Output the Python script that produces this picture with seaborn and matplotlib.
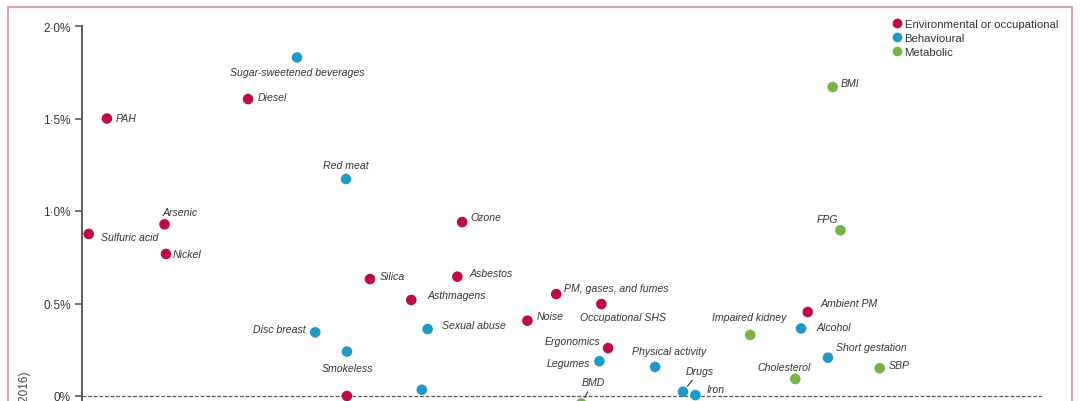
import numpy as np
import pandas as pd
import matplotlib
matplotlib.use('Agg')
import matplotlib.pyplot as plt
from matplotlib.patches import Rectangle
from matplotlib.lines import Line2D
import seaborn as sns

#%% data (x is a plain position, y is % change)
groups = ['Environmental or occupational', 'Behavioural', 'Metabolic']

env_risks = ['PAH', 'Diesel', 'Sulfuric acid', 'Arsenic', 'Nickel', 'Ozone', 'Silica',
             'Asbestos', 'Asthmagens', 'PM, gases, and fumes', 'Occupational SHS', 'Noise',
             'Ergonomics', 'Ambient PM', '']
env_x = [2.6, 17.3, 0.7, 8.6, 8.75, 39.6, 30.0, 39.1, 34.3, 49.4, 54.1, 46.4, 54.8, 75.6, 27.6]
env_y = [1.50, 1.605, 0.876, 0.928, 0.768, 0.94, 0.632, 0.645, 0.519, 0.551, 0.497, 0.407,
         0.259, 0.454, 0.0]

beh_risks = ['Sugar-sweetened beverages', 'Red meat', 'Disc breast', 'Smokeless', 'Sexual abuse',
             'Legumes', 'Physical activity', '', 'Drugs', 'Iron', 'Alcohol', 'Short gestation']
beh_x = [22.4, 27.5, 24.3, 27.6, 36.0, 53.9, 59.7, 35.4, 62.6, 63.9, 74.9, 77.7]
beh_y = [1.83, 1.173, 0.344, 0.24, 0.362, 0.188, 0.157, 0.034, 0.023, 0.005, 0.365, 0.207]

met_risks = ['BMI', 'FPG', 'Impaired kidney', 'Cholesterol', 'SBP', 'BMD']
met_x = [78.2, 79.0, 69.6, 74.3, 83.1, 52.0]
met_y = [1.67, 0.896, 0.33, 0.092, 0.15, -0.04]

ytick_vals = [0, 0.5, 1.0, 1.5, 2.0]
ytick_labels = ['0%', '0·5%', '1·0%', '1·5%', '2·0%']

#%% data frame
df = pd.DataFrame({
    'risk': env_risks + beh_risks + met_risks,
    'x': env_x + beh_x + met_x,
    'change': env_y + beh_y + met_y,
    'group': [groups[0]] * len(env_risks) + [groups[1]] * len(beh_risks) + [groups[2]] * len(met_risks),
})

pal = {groups[0]: '#bf0a42', groups[1]: '#1b9cc8', groups[2]: '#77b543'}

# label placement: (dx px, dy px, ha)
lab_pos = {
    'PAH': (9, 0, 'left'), 'Diesel': (10, 2, 'left'), 'Sulfuric acid': (12, -3, 'left'),
    'Arsenic': (-2, 12, 'left'), 'Nickel': (7, 0, 'left'), 'Ozone': (8, 5, 'left'),
    'Silica': (10, 3, 'left'), 'Asbestos': (12, 4, 'left'), 'Asthmagens': (16, 5, 'left'),
    'PM, gases, and fumes': (8, 6, 'left'), 'Occupational SHS': (22, -13, 'center'),
    'Noise': (9, 5, 'left'), 'Ergonomics': (-8, 7, 'right'), 'Ambient PM': (13, 9, 'left'),
    'Sugar-sweetened beverages': (0, -15, 'center'), 'Red meat': (0, 14, 'center'),
    'Disc breast': (-10, 3, 'right'), 'Smokeless': (0, -16, 'center'),
    'Sexual abuse': (14, 4, 'left'), 'Legumes': (-9, -2, 'right'),
    'Physical activity': (14, 16, 'center'), 'Drugs': (3, 21, 'left'), 'Iron': (11, 6, 'left'),
    'Alcohol': (15, 1, 'left'), 'Short gestation': (8, 11, 'left'), 'BMI': (8, 4, 'left'),
    'FPG': (-13, 11, 'center'), 'Impaired kidney': (-1, 18, 'center'),
    'Cholesterol': (-11, 12, 'center'), 'SBP': (9, 3, 'left'), 'BMD': (12, 21, 'center'),
}
with_line = ['Drugs', 'BMD']

#%% plot
sns.set_style('white')
plt.rcParams['font.family'] = ['Liberation Sans', 'DejaVu Sans']

W, H = 1080, 402
fig = plt.figure(figsize=(W / 100, H / 100), dpi=100)
ax = fig.add_axes([82 / W, 1 - 452.5 / H, 960 / W, (452.5 - 27) / H])

ax.axhline(0, color='#555555', lw=0.9, ls=(0, (3, 1.5)), zorder=1)
sns.scatterplot(data=df, x='x', y='change', hue='group', palette=pal, s=58,
                edgecolor='none', legend=False, ax=ax, zorder=3)

for _, r in df.iterrows():
    if r['risk'] == '':
        continue
    dx, dy, ha = lab_pos[r['risk']]
    kw = {}
    if r['risk'] in with_line:
        kw['arrowprops'] = dict(arrowstyle='-', color='#333333', lw=0.8, shrinkA=1, shrinkB=5)
    ax.annotate(r['risk'], (r['x'], r['change']), xytext=(dx, dy), textcoords='offset pixels',
                ha=ha, va='center', fontsize=7.6, style='italic', color='#333333', **kw)

ax.set_xlim(0, 100)
ax.set_ylim(-0.3, 2.0)
ax.set_xticks([])
ax.set_yticks(ytick_vals)
ax.set_yticklabels(ytick_labels)
ax.set_xlabel('')
ax.set_ylabel('')
for s in ['top', 'right', 'bottom']:
    ax.spines[s].set_visible(False)
ax.spines['left'].set_color('#5a5a5a')
ax.spines['left'].set_linewidth(1.4)
ax.tick_params(axis='y', length=5, width=1.2, color='#5a5a5a', labelsize=8.5,
               labelcolor='#333333', pad=3, left=True)

handles = [Line2D([], [], marker='o', ls='none', color=pal[g], markersize=6) for g in groups]
ax.legend(handles, groups, loc='upper left', bbox_to_anchor=(892 / W, 1 - 20 / H),
          bbox_transform=fig.transFigure, frameon=False, fontsize=8.2, handlelength=0.8,
          handletextpad=0.3, labelspacing=0.35, borderpad=0, borderaxespad=0, labelcolor='#333333')

fig.text(25 / W, 1 - 372 / H, 'Change in attributable DALYs (2006–2016)', rotation=90,
         ha='center', va='top', fontsize=8.5, color='#444444')

fig.add_artist(Rectangle((8 / W, -0.1), (1072 - 8) / W, 1 - 8 / H + 0.1, transform=fig.transFigure,
                         fill=False, ec='#d98fa2', lw=1.2))

plt.savefig('out.png', dpi=100)
